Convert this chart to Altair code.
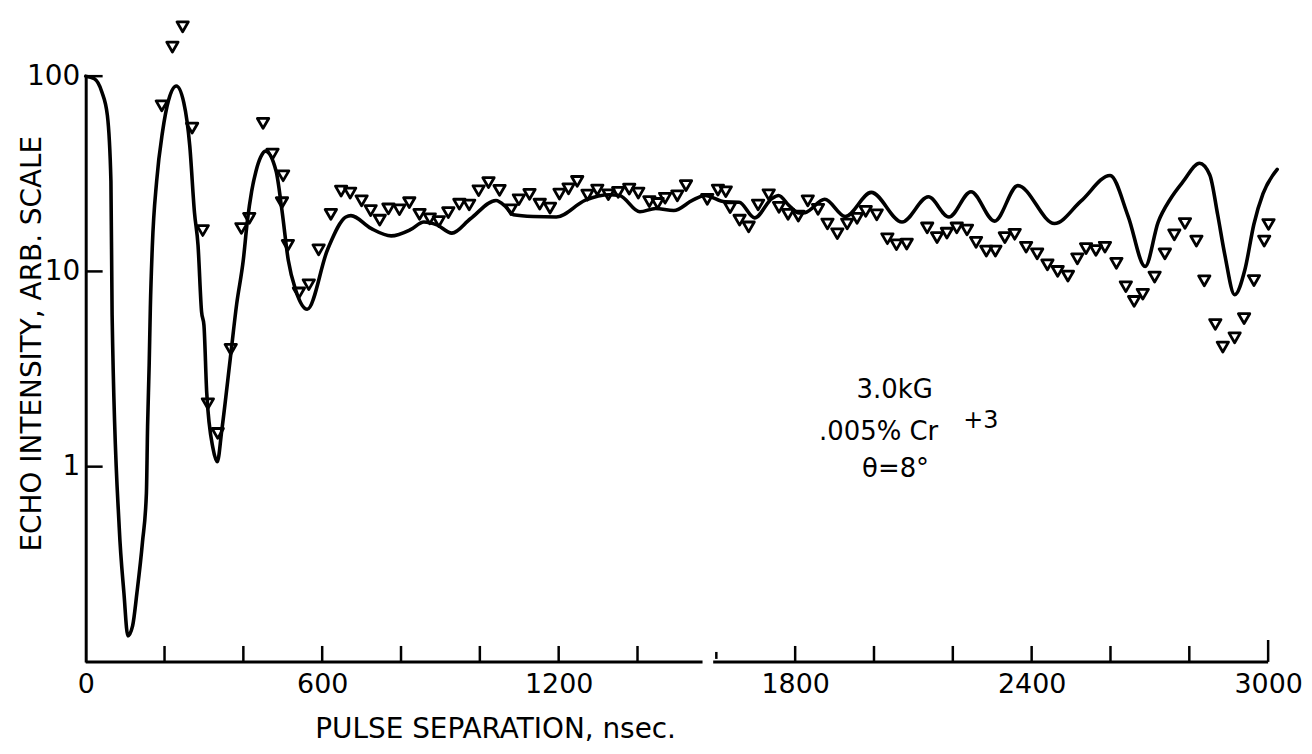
import altair as alt
import pandas as pd

# ---- data ----
curve_ns = [0, 22, 41, 55, 64, 67, 85, 97, 107, 119, 130, 144, 154, 157, 161, 164, 169, 180, 195, 210,
            230, 249, 264, 276, 285, 294, 300, 307, 323, 334, 345, 367, 383, 400, 410, 421, 432, 444, 456, 483,
            498, 514, 533, 562, 614, 660, 673, 724, 775, 825, 858, 891, 929, 976, 1041, 1066, 1085, 1135, 1194, 1268,
            1329, 1354, 1406, 1446, 1492, 1539, 1571, 1622, 1658, 1697, 1741, 1758, 1784, 1810, 1825, 1875, 1927, 1993,
            2071, 2138, 2190, 2246, 2306, 2365, 2458, 2525, 2599, 2645, 2688, 2721, 2752, 2784, 2826, 2852, 2872, 2890,
            2915, 2941, 2964, 2987, 3023]
curve_val = [100, 97, 83, 63, 29, 6.0, 0.49, 0.225, 0.136, 0.153, 0.226, 0.41, 0.73, 1.6, 3.3, 6.5, 13.4, 29, 52, 75,
             89, 73, 44, 20, 13.6, 6.2, 5.3, 2.4, 1.24, 1.06, 1.52, 3.6, 6.8, 11.5, 18, 25.7, 32.6, 38.5, 41.3, 32.7,
             20.5, 11.4, 8.0, 6.4, 13, 19, 19.3, 16.6, 15.2, 16.4, 17.9, 17.3, 15.7, 18.6, 23.1, 21.4, 19.5, 19.1, 19.0, 23.2,
             24.7, 24.5, 20.2, 21.0, 20.5, 23.1, 24.5, 22.7, 22.6, 18.8, 23.6, 24.5, 21.8, 19.9, 20.0, 23.4, 19.1, 25.4,
             17.9, 24.1, 19.0, 25.6, 18.1, 27.5, 17.6, 22.9, 31, 19.1, 10.6, 17.9, 23.5, 28.8, 35.8, 31.2, 19.5, 12.2,
             7.6, 10.2, 17.5, 25, 33.3]

tri_ns = [193, 220, 246, 270, 297, 310, 335, 368, 395, 415, 450, 474, 498, 501, 513, 541, 566, 591, 622, 648,
          671, 700, 723, 746, 768, 796, 821, 847, 873, 896, 920, 948, 973, 997, 1022, 1050, 1079, 1099, 1126, 1152,
          1178, 1202, 1225, 1247, 1273, 1298, 1326, 1351, 1379, 1402, 1430, 1451, 1470, 1501, 1523, 1577, 1604, 1624, 1635, 1659,
          1682, 1706, 1733, 1759, 1782, 1808, 1832, 1858, 1882, 1907, 1932, 1957, 1979, 2007, 2034, 2057, 2083, 2135, 2160, 2185,
          2210, 2236, 2259, 2285, 2308, 2332, 2357, 2386, 2414, 2440, 2466, 2492, 2516, 2538, 2563, 2586, 2615, 2639, 2660, 2682,
          2712, 2738, 2762, 2789, 2818, 2838, 2866, 2885, 2915, 2939, 2964, 2990, 3001]
tri_val = [70.5, 141, 179, 54.2, 16.2, 2.10, 1.48, 3.99, 16.6, 18.7, 57.3, 39.9, 22.5, 30.9, 13.6, 7.76, 8.55, 12.9, 19.6, 25.8,
           25.2, 23.0, 20.5, 18.3, 20.9, 20.7, 22.5, 19.6, 18.6, 18.0, 20.0, 22.1, 21.9, 25.9, 28.5, 26.0, 20.7, 23.3, 24.8, 22.1,
           21.1, 24.9, 26.5, 28.9, 24.6, 26.1, 24.7, 25.4, 26.4, 25.2, 22.8, 22.3, 23.7, 24.4, 27.5, 23.4, 26.1, 25.6, 21.2, 18.3,
           16.9, 21.9, 24.7, 21.3, 19.6, 19.2, 23.0, 20.8, 17.5, 15.6, 17.5, 18.7, 20.3, 19.5, 14.7, 13.7, 13.8, 16.7, 14.9, 15.7,
           16.7, 16.3, 14.1, 12.7, 12.7, 14.9, 15.5, 13.3, 12.3, 10.8, 10.0, 9.46, 11.6, 13.1, 12.8, 13.3, 11.0, 8.35, 7.02, 7.64,
           9.36, 12.3, 15.4, 17.6, 14.3, 8.95, 5.35, 4.10, 4.57, 5.73, 8.98, 14.3, 17.4]

x_label_values = [0, 600, 1200, 1800, 2400, 3000]
y_label_values = [1, 10, 100]
x_minor_ticks = [200, 400, 600, 800, 1000, 1200, 1400, 1800, 2000, 2200, 2400, 2600, 2800]
x_short_ticks = [1600]
x_end_ticks = [3000]
x_axis_seg_start = [0, 1592]
x_axis_seg_end = [1565, 3000]

x_title = "PULSE SEPARATION, nsec."
y_title = "ECHO INTENSITY, ARB. SCALE"
note_lines = ["3.0kG", ".005% Cr", "+3", "θ=8°"]

# ---- layout / style ----
W, H = 1187, 588
FONT = "DejaVu Sans"
INK = "black"

xscale = alt.Scale(domain=[0, 3000], nice=False, zero=False)
yscale = alt.Scale(type="log", domain=[0.1, 100], nice=False)

x_axis = alt.Axis(values=x_label_values, format="d", title=x_title, domain=False, ticks=False, grid=False,
                  labelFont=FONT, labelFontSize=27, labelColor=INK, labelPadding=10,
                  labelFlush=False, labelOverlap=False,
                  titleFont=FONT, titleFontSize=28, titleFontWeight="normal", titleColor=INK,
                  titleX=411, titleY=68, titleAlign="center", titleBaseline="middle")
y_axis = alt.Axis(values=y_label_values, format="d", title=y_title, domain=True, domainColor=INK, domainWidth=3,
                  ticks=False, grid=False, labelOverlap=False,
                  labelFont=FONT, labelFontSize=28, labelColor=INK, labelPadding=6,
                  titleFont=FONT, titleFontSize=28, titleFontWeight="normal", titleColor=INK,
                  titleX=-53, titleY=268, titleAngle=270, titleAlign="center", titleBaseline="middle")

curve_df = pd.DataFrame({"ns": curve_ns, "val": curve_val})
tri_df = pd.DataFrame({"ns": tri_ns, "val": tri_val})

curve = alt.Chart(curve_df).mark_line(color=INK, strokeWidth=3.6, interpolate="monotone", clip=False,
                                      strokeJoin="round", strokeCap="round").encode(
    x=alt.X("ns:Q", scale=xscale, axis=x_axis),
    y=alt.Y("val:Q", scale=yscale, axis=y_axis),
)

tris = alt.Chart(tri_df).mark_point(shape="triangle-down", filled=False, size=130, strokeWidth=2.8,
                                    color=INK, opacity=1, clip=False, strokeJoin="round").encode(
    x=alt.X("ns:Q", scale=xscale),
    y=alt.Y("val:Q", scale=yscale),
)

seg_df = pd.DataFrame({"ns": x_axis_seg_start, "ns_end": x_axis_seg_end})
x_domain = alt.Chart(seg_df).mark_rule(color=INK, strokeWidth=3).encode(
    x=alt.X("ns:Q", scale=xscale), x2="ns_end:Q", y=alt.value(H))

def xtick_layer(vals, length, lift=0):
    df = pd.DataFrame({"ns": vals})
    return alt.Chart(df).mark_rule(color=INK, strokeWidth=2.5).encode(
        x=alt.X("ns:Q", scale=xscale),
        y=alt.value(H - lift), y2=alt.value(H - lift - length))

ticks_minor = xtick_layer(x_minor_ticks, 16)
ticks_short = xtick_layer(x_short_ticks, 7, lift=3)
ticks_end = xtick_layer(x_end_ticks, 22)

ytick_df = pd.DataFrame({"val": y_label_values})
y_ticks = alt.Chart(ytick_df).mark_rule(color=INK, strokeWidth=2.5).encode(
    y=alt.Y("val:Q", scale=yscale), x=alt.value(0), x2=alt.value(17))

one = alt.Data(values=[{"k": 0}])
def note(text, x, y, size=26, align="center"):
    return alt.Chart(one).mark_text(text=text, x=x, y=y, font=FONT, fontSize=size, color=INK,
                                    align=align, baseline="alphabetic")

notes = [
    note(note_lines[0], 812, 323),
    note(note_lines[1], 796, 365),
    note(note_lines[2], 881, 353, size=24, align="left"),
    note(note_lines[3], 813, 402),
]

chart = alt.layer(curve, tris, x_domain, ticks_minor, ticks_short, ticks_end, y_ticks, *notes).properties(
    width=W, height=H,
    padding={"left": 78, "top": 67, "right": 36, "bottom": 86},
    autosize=alt.AutoSizeParams(type="none"),
).configure(background="white").configure_view(stroke=None)

chart.save("out.html", embed_options={"renderer": "svg", "actions": False})
